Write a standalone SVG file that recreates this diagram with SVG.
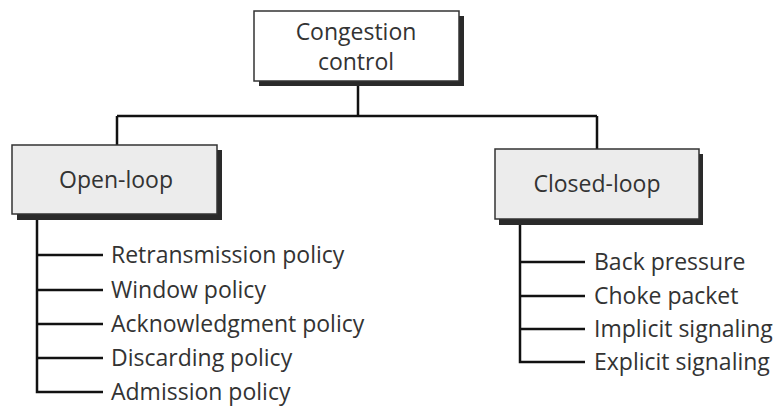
<svg xmlns="http://www.w3.org/2000/svg" width="780" height="407" viewBox="0 0 780 407">
<style>
text{font-family:"Open Sans","Liberation Sans",sans-serif;font-size:23px;fill:#333;}
.c{text-anchor:middle;}
.box{stroke:#333;stroke-width:1.5;}
.sh{fill:#2a2a2a;}
.ln{stroke:#111;stroke-width:2.5;fill:none;}
</style>
<rect width="780" height="407" fill="#fff"/>
<g id="connectors">
<path class="ln" d="M358 81V116M117 116H597M117 116V145M597 116V149"/>
<path class="ln" d="M37 220V392H103M37 255H103M37 290H103M37 324H103M37 358H103"/>
<path class="ln" d="M520 225V362H585M520 262H585M520 296H585M520 329H585"/>
</g>
<g id="congestion-control">
<rect class="sh" x="259" y="16" width="205" height="70"/>
<rect class="box" x="254" y="11" width="205" height="70" fill="#fff"/>
<text class="c" x="356" y="40">Congestion</text>
<text class="c" x="356" y="70">control</text>
</g>
<g id="open-loop">
<rect class="sh" x="17" y="150" width="205" height="70"/>
<rect class="box" x="12" y="145" width="205" height="69" fill="#ececec"/>
<text class="c" x="116" y="188">Open-loop</text>
</g>
<g id="closed-loop">
<rect class="sh" x="499" y="154" width="204" height="71"/>
<rect class="box" x="495" y="149" width="204" height="70" fill="#ececec"/>
<text class="c" x="597" y="192">Closed-loop</text>
</g>
<g id="open-items">
<text x="111" y="263">Retransmission policy</text>
<text x="111" y="298">Window policy</text>
<text x="111" y="332">Acknowledgment policy</text>
<text x="111" y="366">Discarding policy</text>
<text x="111" y="400">Admission policy</text>
</g>
<g id="closed-items">
<text x="594" y="270">Back pressure</text>
<text x="594" y="304">Choke packet</text>
<text x="594" y="337">Implicit signaling</text>
<text x="594" y="370">Explicit signaling</text>
</g>
</svg>
